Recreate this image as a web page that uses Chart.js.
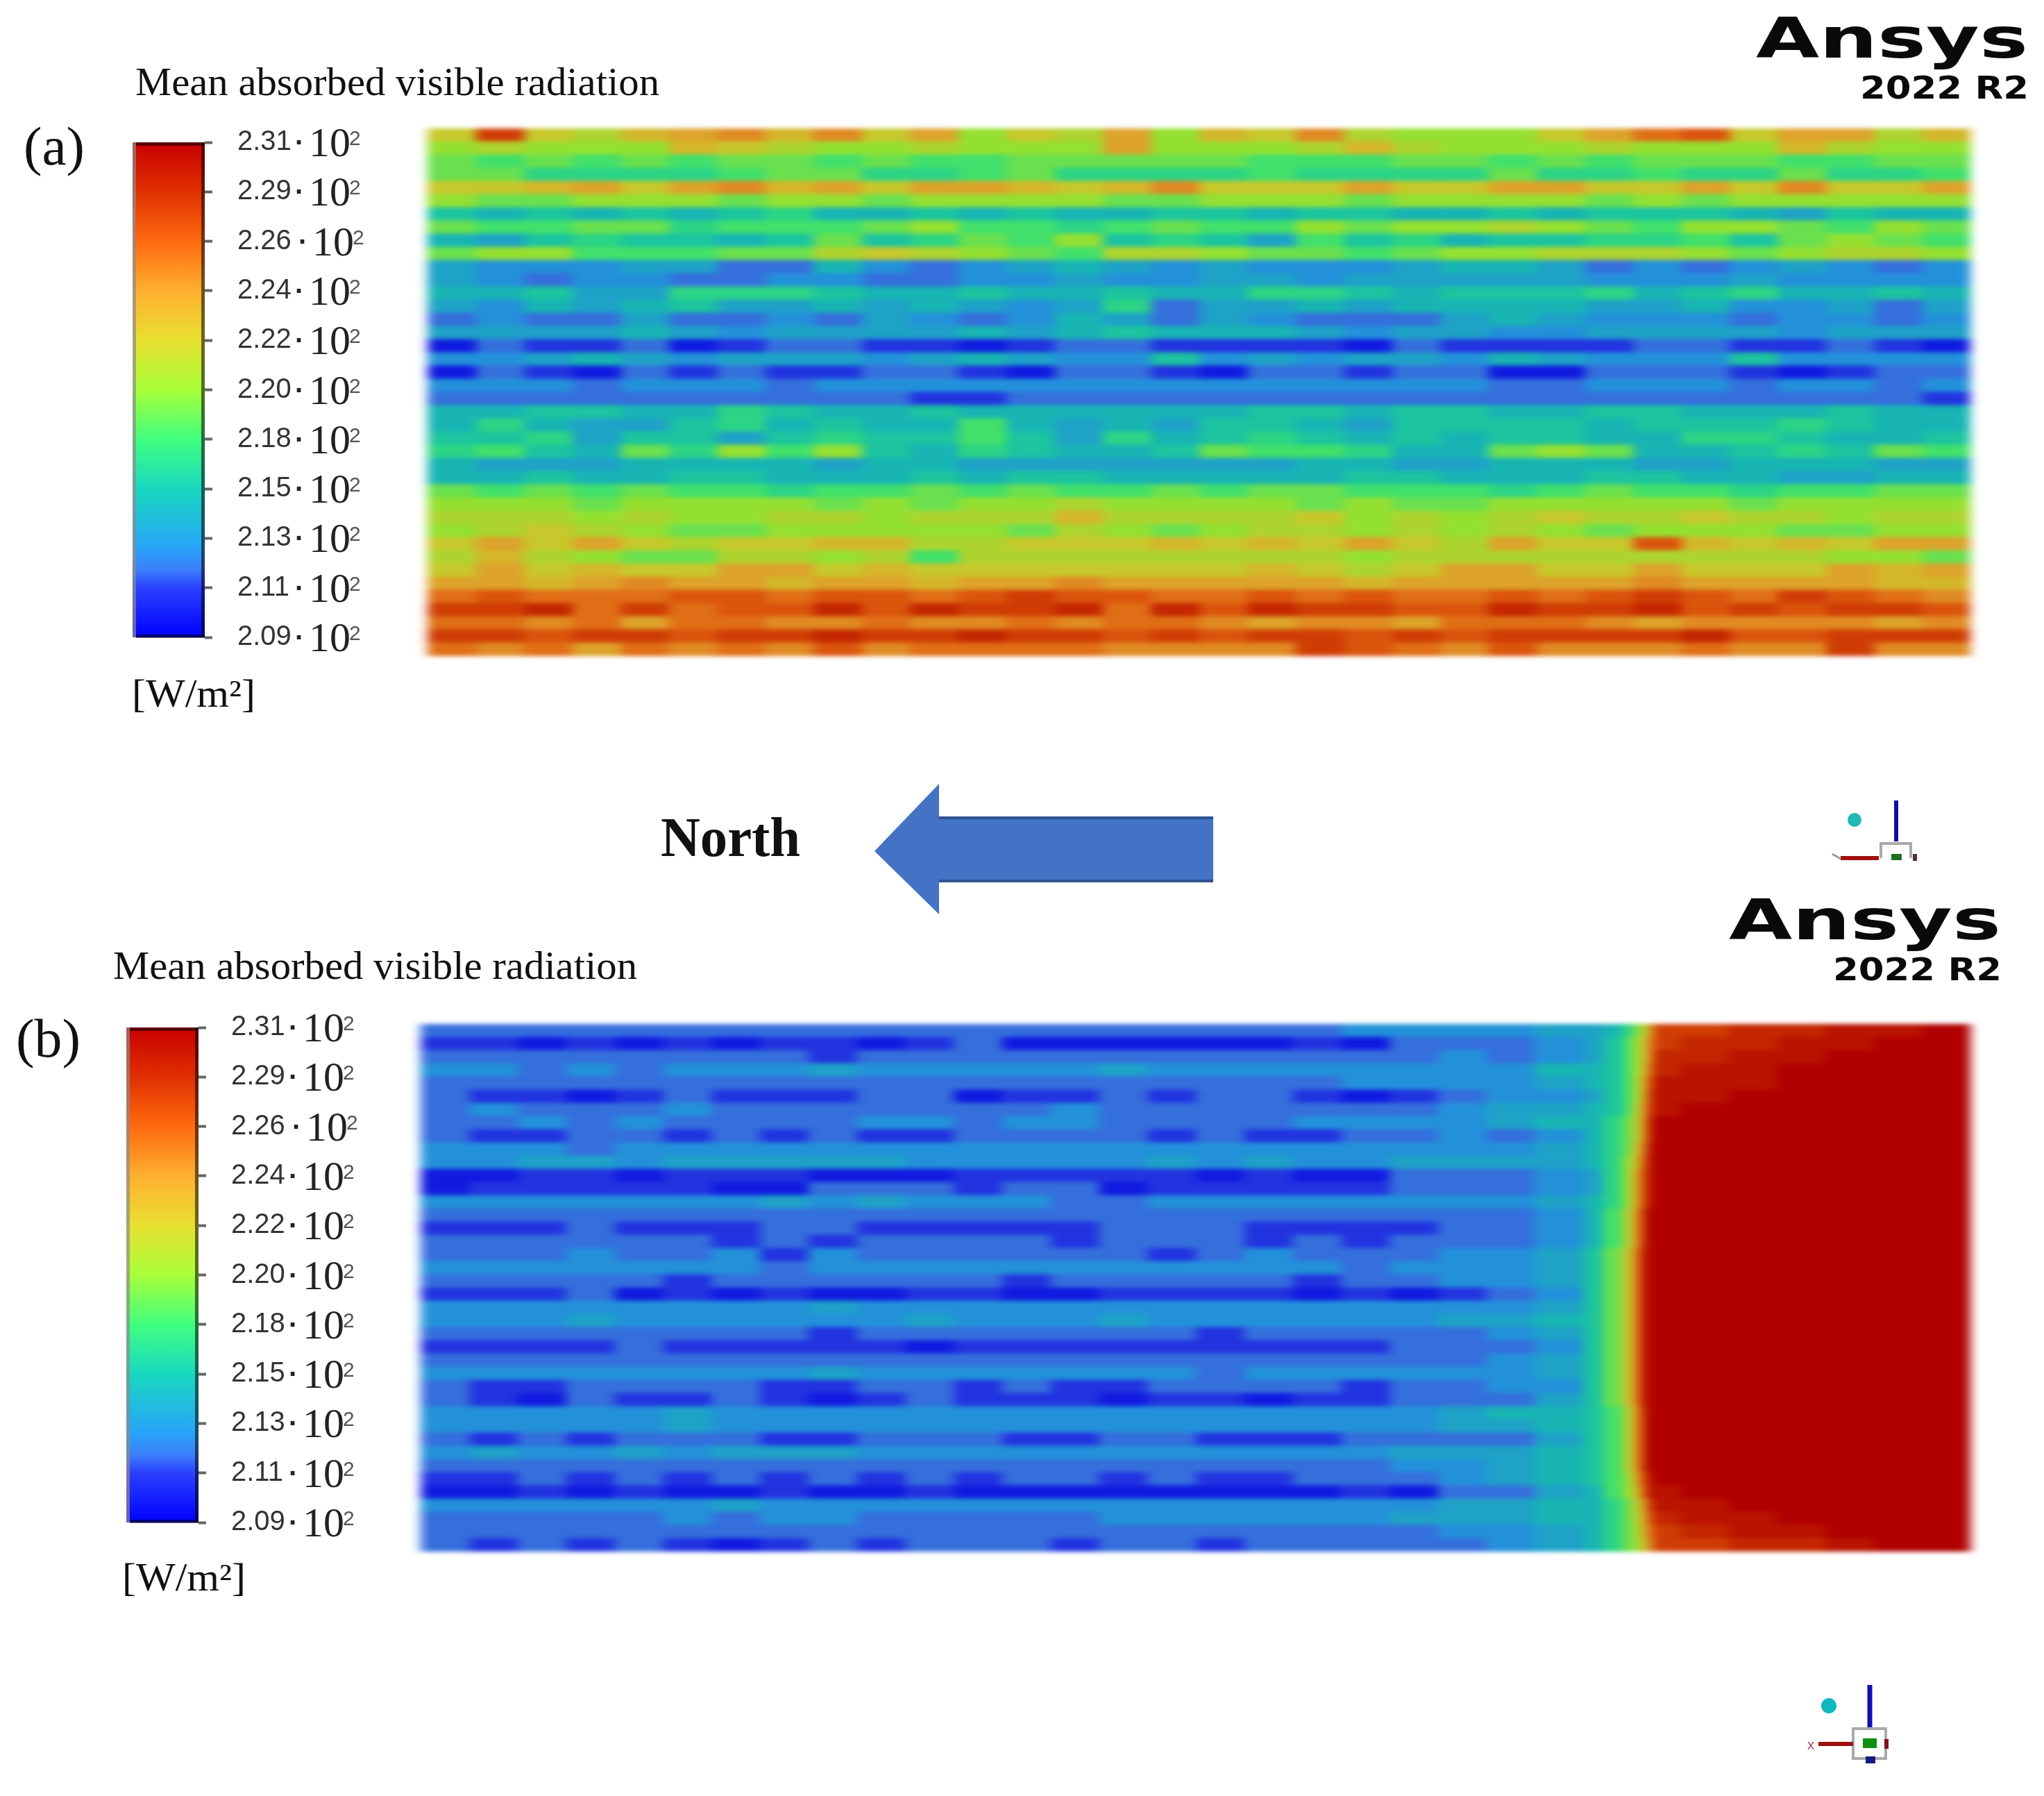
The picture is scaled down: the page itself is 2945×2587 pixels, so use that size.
<!DOCTYPE html>
<html>
<head>
<meta charset="utf-8">
<title>Mean absorbed visible radiation</title>
<script src="https://cdn.jsdelivr.net/npm/chart.js@4/dist/chart.umd.js"></script>
<style>
body { margin: 0; background: #fff; width: 2945px; height: 2587px; overflow: hidden; position: relative; }
canvas { position: absolute; }
#overlay { position: absolute; left: 0; top: 0; }
.heat { filter: url(#soft); }
.serif { font-family: "Liberation Serif"; fill: #111; }
.logo { font-family: "DejaVu Sans"; font-weight: bold; fill: #0a0a0a; }
</style>
</head>
<body>
<canvas id="heatA" class="heat" width="2223" height="760" style="left:616px;top:185px"></canvas>
<canvas id="heatB" class="heat" width="2233" height="760" style="left:606px;top:1475px"></canvas>
<canvas id="barA" width="340" height="833" style="left:191px;top:145px"></canvas>
<canvas id="barB" width="340" height="833" style="left:182px;top:1420px"></canvas>

<svg id="overlay" width="2945" height="2587">
  <filter id="soft" color-interpolation-filters="sRGB"><feGaussianBlur stdDeviation="8 3"/></filter>

  <text class="serif" x="195" y="137" font-size="58" textLength="755" lengthAdjust="spacingAndGlyphs">Mean absorbed visible radiation</text>
  <text class="serif" x="34" y="237" font-size="78" textLength="88" lengthAdjust="spacingAndGlyphs">(a)</text>
  <text class="serif" x="190" y="1018" font-size="56" textLength="178" lengthAdjust="spacingAndGlyphs">[W/m²]</text>

  <text class="serif" x="163" y="1410" font-size="58" textLength="755" lengthAdjust="spacingAndGlyphs">Mean absorbed visible radiation</text>
  <text class="serif" x="23" y="1522" font-size="78" textLength="93" lengthAdjust="spacingAndGlyphs">(b)</text>
  <text class="serif" x="176" y="2291" font-size="56" textLength="178" lengthAdjust="spacingAndGlyphs">[W/m²]</text>

  <text class="serif" x="952" y="1233" font-size="80" font-weight="bold" textLength="201" lengthAdjust="spacingAndGlyphs">North</text>
  <polygon points="1260,1226 1353,1129 1353,1177 1748,1177 1748,1270 1353,1270 1353,1317" fill="#4472c4"/>
  <line x1="1353" y1="1178" x2="1748" y2="1178" stroke="#2f528f" stroke-width="4"/>
  <line x1="1353" y1="1269" x2="1748" y2="1269" stroke="#2f528f" stroke-width="4"/>

  <text class="logo" x="2530" y="83" font-size="80" textLength="392" lengthAdjust="spacingAndGlyphs">Ansys</text>
  <text class="logo" x="2680" y="142" font-size="44" textLength="243" lengthAdjust="spacingAndGlyphs">2022 R2</text>
  <text class="logo" x="2491" y="1353" font-size="80" textLength="392" lengthAdjust="spacingAndGlyphs">Ansys</text>
  <text class="logo" x="2641" y="1412" font-size="44" textLength="243" lengthAdjust="spacingAndGlyphs">2022 R2</text>

  <!-- triad (a) -->
  <circle cx="2672" cy="1181" r="10" fill="#20b8b8"/>
  <line x1="2732" y1="1153" x2="2732" y2="1212" stroke="#1010a0" stroke-width="6"/>
  <path d="M2710 1236 V1215 H2753 V1236" fill="none" stroke="#aaa" stroke-width="4"/>
  <line x1="2652" y1="1236" x2="2707" y2="1236" stroke="#a01010" stroke-width="6"/>
  <line x1="2640" y1="1230" x2="2652" y2="1237" stroke="#999" stroke-width="3"/>
  <rect x="2725" y="1230" width="15" height="9" fill="#207020"/>
  <rect x="2756" y="1230" width="6" height="10" fill="#503040"/>

  <!-- triad (b) -->
  <circle cx="2635" cy="2457" r="11" fill="#10b8c0"/>
  <line x1="2694" y1="2427" x2="2694" y2="2490" stroke="#1010b0" stroke-width="7"/>
  <rect x="2670" y="2490" width="47" height="43" fill="none" stroke="#aaa" stroke-width="4"/>
  <line x1="2620" y1="2512" x2="2670" y2="2512" stroke="#a01010" stroke-width="6"/>
  <rect x="2684" y="2504" width="20" height="14" fill="#109010"/>
  <rect x="2688" y="2530" width="14" height="10" fill="#181880"/>
  <rect x="2715" y="2505" width="6" height="14" fill="#801020"/>
  <text x="2604" y="2520" font-size="20" font-family="Liberation Sans" fill="#b04060">x</text>
</svg>

<script>
// colour legend, same for both panels
const tickValues = [209, 211.2, 213.4, 215.6, 217.8, 220, 222.2, 224.4, 226.6, 228.8, 231];
const tickLabels = ['2.09', '2.11', '2.13', '2.15', '2.18', '2.20', '2.22', '2.24', '2.26', '2.29', '2.31'];
const stopValues = [209, 211.2, 212, 213, 215.6, 217.8, 220, 222.2, 224.4, 226.6, 228.8, 231];
const stopColors = [
  [0, 0, 255], [42, 64, 255], [60, 126, 250], [40, 165, 248], [24, 216, 192], [64, 255, 128],
  [168, 255, 56], [232, 224, 48], [255, 176, 48], [255, 106, 16], [224, 48, 0], [200, 0, 0]
];

// panel (a), W/m2, top row first
const edgesA = [0,1,2,3,4,5,6,7,8,9,10,11,12,13,14,15,16,17,18,19,20,21,22,23,24,25,26,27,28,29,30,31,32];
const rowsA = [
  [222,228,222,221,223,224,225,223,225,222,224,220,222,221,224,220,223,222,225,221,220,220,220,222,224,226,227,222,224,224,221,223],
  [220,221,220,220,220,223,222,221,220,220,221,220,220,220,224,220,220,220,221,223,221,220,220,220,221,220,220,220,223,221,220,220],
  [219,218,219,218,219,218,219,219,218,219,218,218,219,219,219,219,219,218,218,218,219,219,218,219,218,219,219,219,218,218,219,219],
  [219,219,217,217,217,217,218,219,219,217,217,218,219,217,217,217,217,218,217,217,217,217,219,217,217,218,217,217,219,217,217,218],
  [222,222,223,224,222,224,225,223,224,222,224,224,223,222,223,225,222,222,222,224,222,222,224,224,222,222,224,222,225,222,222,224],
  [220,219,219,220,220,220,219,220,220,219,220,220,220,220,219,219,220,220,220,219,220,220,220,220,219,220,219,220,220,220,220,220],
  [216,215,216,215,216,215,216,217,215,215,216,215,216,215,215,216,216,215,216,216,215,215,216,215,216,216,216,215,214,216,215,215],
  [219,218,218,219,219,217,218,218,218,219,220,218,218,217,218,219,218,218,220,219,220,220,221,220,219,218,220,220,219,218,220,219],
  [215,214,216,217,216,216,215,216,219,216,217,219,218,220,216,217,216,214,218,216,217,215,216,216,217,217,218,216,219,220,219,218],
  [219,220,220,218,218,218,219,219,221,222,221,220,219,218,221,221,220,219,219,218,219,220,220,221,221,221,220,219,220,221,221,220],
  [214,213,213,213,214,214,212,212,215,213,212,213,214,215,214,213,214,213,213,213,214,215,215,214,212,213,212,213,214,213,212,213],
  [214,213,212,213,213,212,212,213,213,212,212,213,213,214,213,213,214,214,213,214,214,214,214,214,213,213,213,214,213,213,213,213],
  [215,215,216,214,214,217,217,217,216,215,215,216,215,215,216,215,215,217,217,216,215,216,216,216,217,215,216,217,215,215,216,215],
  [214,213,215,214,215,216,214,214,215,214,215,214,213,214,217,212,214,214,215,214,215,215,215,215,214,214,215,213,213,214,212,214],
  [212,213,212,212,214,212,212,213,212,214,213,212,213,215,214,212,214,213,212,212,212,214,215,214,213,213,213,212,213,213,212,213],
  [214,214,214,214,215,214,213,214,214,214,214,215,214,215,216,215,215,215,214,213,214,214,213,213,214,214,214,214,213,214,214,214],
  [210,212,211,211,212,210,211,212,212,211,211,210,211,212,212,211,211,211,211,210,212,211,211,211,211,212,212,211,211,212,211,210],
  [213,213,214,215,214,213,214,214,214,213,214,215,214,213,213,216,213,214,213,214,214,213,215,214,213,213,213,216,213,213,213,213],
  [210,212,211,210,212,211,212,211,211,212,212,211,210,212,212,211,210,212,212,211,212,212,210,210,212,212,212,211,210,211,212,212],
  [213,213,213,212,213,213,213,212,213,213,213,213,213,213,213,213,213,213,213,213,213,213,212,212,213,213,213,212,213,213,212,213],
  [212,212,212,212,212,212,212,212,212,212,211,211,212,212,212,212,212,212,212,212,212,212,212,212,212,212,212,212,212,212,212,211],
  [215,215,216,216,215,215,217,216,215,215,216,215,215,215,215,215,215,216,216,215,216,216,215,215,216,216,215,215,215,216,215,215],
  [215,217,215,214,214,216,217,215,216,215,215,218,215,214,215,214,216,216,215,214,216,216,216,216,215,216,216,216,217,216,215,215],
  [216,216,217,214,216,216,214,216,217,216,216,218,216,214,217,215,216,217,216,215,216,215,216,216,215,215,217,217,216,215,215,216],
  [217,218,216,215,219,217,220,218,220,216,215,217,216,215,215,216,219,218,218,217,215,215,219,220,219,215,215,216,217,216,219,218],
  [215,214,214,214,215,215,215,215,214,215,215,214,214,214,214,214,214,214,215,215,214,214,215,215,215,214,214,215,215,215,214,214],
  [215,215,216,215,215,216,216,215,215,215,216,215,216,216,215,215,215,215,215,216,216,215,215,215,216,216,215,215,214,214,215,215],
  [219,218,219,218,219,218,218,217,218,218,219,218,219,218,218,219,218,219,219,218,218,218,217,218,219,218,218,217,218,218,219,219],
  [220,220,220,219,220,220,220,220,219,220,219,220,220,221,220,220,220,220,219,220,219,219,220,220,220,220,220,219,220,220,220,220],
  [221,221,221,220,221,220,220,221,221,220,221,221,221,223,221,221,221,221,222,220,221,220,221,222,221,221,222,221,221,220,221,221],
  [220,221,222,221,220,219,219,220,220,220,220,220,219,221,220,219,220,221,221,220,221,220,221,220,219,220,220,220,219,219,220,220],
  [222,224,222,224,222,221,222,222,223,223,221,221,222,222,222,223,222,223,222,224,222,221,224,222,222,227,223,222,223,222,224,224],
  [221,223,221,220,219,219,221,221,220,221,218,221,221,221,221,221,221,221,221,220,221,221,221,221,221,221,221,221,221,220,220,219],
  [222,224,222,223,222,222,224,224,222,223,222,222,222,222,222,222,222,223,222,221,222,224,224,222,222,224,222,222,222,224,223,224],
  [224,224,223,224,225,224,224,223,224,224,223,224,224,225,224,224,224,224,224,223,224,224,224,224,224,225,224,224,224,224,223,223],
  [226,227,226,226,226,227,227,226,227,227,226,227,228,227,227,226,226,227,226,227,226,226,227,226,227,228,227,226,228,227,226,225],
  [228,228,229,226,228,226,227,227,229,227,229,228,228,229,226,229,227,229,228,228,227,227,229,228,228,229,227,228,227,228,228,227],
  [226,226,225,226,224,226,226,225,225,226,225,225,226,225,226,226,225,224,225,225,224,226,226,226,225,224,225,225,225,225,224,225],
  [228,228,227,228,228,227,228,228,229,228,228,229,228,228,227,228,227,228,228,227,228,227,228,228,228,228,229,227,227,228,228,228],
  [226,225,226,224,226,225,226,225,227,225,226,226,226,226,225,225,225,225,228,227,226,225,227,225,225,225,226,225,225,228,225,225]
];

// panel (b): narrow columns around the edge of the hot zone
const edgesB = [0,1,2,3,4,5,6,7,8,9,10,11,12,13,14,15,16,17,18,19,20,21,22,23,24,24.4,24.8,25,25.15,25.3,25.45,26,27,28,29,30,31,32];
const rowsBLeft = [
  [212,212,212,212,212,212,212,212,212,212,212,212,212,212,212,212,212,212,212,213,213,213,213,214],
  [211,211,210,211,210,211,210,211,211,210,211,212,210,210,210,210,210,210,211,210,212,212,212,213],
  [212,212,212,212,212,212,212,212,211,212,212,212,212,212,212,212,212,212,212,212,212,213,212,213],
  [213,213,212,213,212,213,213,213,214,213,213,213,213,213,214,213,213,213,213,213,213,213,213,215],
  [212,212,212,212,212,212,212,212,212,212,212,212,212,212,212,212,212,212,212,213,213,213,213,214],
  [212,211,211,210,211,212,211,211,211,212,212,210,211,211,212,211,212,212,211,210,211,212,213,213],
  [212,213,212,212,212,213,212,212,212,212,212,212,212,213,212,212,212,212,212,212,212,213,214,214],
  [212,212,213,212,213,212,212,212,212,213,213,212,213,213,212,212,212,212,213,213,213,213,214,215],
  [212,211,211,212,212,211,212,211,212,211,211,212,212,212,212,211,212,211,211,212,212,213,212,213],
  [213,213,213,212,213,213,213,213,213,213,213,213,213,213,213,213,213,213,213,213,213,213,213,214],
  [213,213,214,214,213,214,214,214,214,214,213,213,213,213,213,214,213,214,213,213,214,214,214,214],
  [210,210,211,211,210,211,211,211,210,210,210,211,211,211,211,211,210,211,210,210,212,212,212,213],
  [210,211,211,211,211,211,210,210,212,212,212,211,212,212,210,211,211,211,211,211,212,212,212,213],
  [213,213,213,213,213,213,213,214,213,214,213,213,213,212,212,213,213,213,213,213,213,213,213,214],
  [212,212,212,212,212,212,212,212,212,212,212,212,212,212,212,212,212,212,212,212,212,212,212,213],
  [211,211,211,212,211,211,211,212,212,211,211,211,211,211,212,212,212,211,211,211,211,212,212,213],
  [212,212,212,212,212,212,211,212,211,212,212,212,212,211,212,212,212,211,212,211,212,212,212,213],
  [212,212,212,213,212,212,213,211,213,212,212,212,212,212,212,211,212,213,212,212,212,213,213,214],
  [213,213,213,213,213,213,213,212,213,213,213,213,213,213,213,213,213,213,213,212,213,213,213,214],
  [212,212,212,212,212,211,212,212,212,212,212,212,211,212,212,212,212,212,211,212,212,213,213,214],
  [211,211,211,212,210,211,210,211,210,210,211,211,210,210,211,211,211,211,210,211,210,211,212,213],
  [213,213,213,213,213,213,213,213,214,213,213,213,213,213,213,213,213,213,213,213,213,213,213,214],
  [213,213,213,214,213,213,213,213,213,213,214,213,213,213,214,213,213,213,213,213,213,214,214,215],
  [212,212,212,212,212,212,212,212,211,212,212,212,212,212,212,212,211,212,212,212,212,212,213,214],
  [211,211,211,211,212,211,211,211,211,211,210,211,211,211,211,211,211,211,211,211,212,212,212,213],
  [212,212,212,212,212,212,212,212,212,212,212,212,212,212,212,212,212,212,212,212,212,212,213,214],
  [213,213,213,213,213,213,213,213,214,213,213,213,213,213,213,213,212,213,213,213,213,213,213,214],
  [212,211,211,212,212,212,212,211,211,212,212,211,212,211,211,212,212,212,212,211,212,212,213,213],
  [212,211,210,212,211,211,212,211,210,211,212,211,211,211,210,211,211,210,211,211,212,212,212,214],
  [213,213,213,213,213,214,213,213,213,213,213,213,213,213,213,213,213,213,213,213,213,214,215,215],
  [213,213,213,213,213,214,213,213,213,213,213,213,213,213,213,213,213,213,213,213,213,214,214,215],
  [212,211,212,211,212,212,212,211,211,212,212,212,211,211,212,212,211,211,211,212,212,212,212,214],
  [213,214,213,213,214,213,214,214,214,213,213,213,213,213,213,213,213,213,213,213,214,214,214,215],
  [212,212,212,212,212,212,212,212,212,212,212,212,212,212,212,212,212,212,212,212,213,213,214,215],
  [211,211,212,211,212,211,212,211,212,211,212,211,212,212,211,212,211,211,212,212,212,213,214,215],
  [210,210,211,210,211,210,210,211,210,210,211,210,210,210,210,210,210,210,210,211,210,212,212,214],
  [213,213,213,213,213,213,214,213,213,213,213,213,213,213,213,213,213,213,213,213,213,214,214,215],
  [212,212,212,212,212,213,212,213,213,212,212,212,212,212,213,213,213,213,213,213,214,214,214,215],
  [212,212,212,212,212,212,212,212,212,212,212,212,212,212,212,212,212,212,212,212,212,213,213,214],
  [212,211,212,211,212,211,210,211,212,211,212,212,212,211,212,212,211,212,212,212,212,212,213,214]
];
const rowsBRight = [
  [214,215,217,219,221,224,228,228,229,229,230,230,231],
  [214,216,218,220,222,225,228,229,229,230,230,231,231],
  [214,216,218,220,222,225,229,229,230,230,231,231,231],
  [215,216,218,220,222,226,229,230,230,231,231,231,231],
  [215,216,218,220,223,227,230,230,230,231,231,231,231],
  [214,216,218,220,223,228,230,230,231,231,231,231,231],
  [215,216,218,221,224,228,230,231,231,231,231,231,231],
  [215,217,219,221,224,229,231,231,231,231,231,231,231],
  [215,217,219,221,224,229,231,231,231,231,231,231,231],
  [215,217,219,222,225,230,231,231,231,231,231,231,231],
  [215,217,220,222,226,230,231,231,231,231,231,231,231],
  [214,217,220,223,227,230,231,231,231,231,231,231,231],
  [214,217,220,223,227,230,231,231,231,231,231,231,231],
  [215,217,220,223,227,230,231,231,231,231,231,231,231],
  [215,218,221,224,228,231,231,231,231,231,231,231,231],
  [215,218,221,224,228,231,231,231,231,231,231,231,231],
  [215,218,221,224,228,231,231,231,231,231,231,231,231],
  [216,219,222,225,229,231,231,231,231,231,231,231,231],
  [216,219,222,225,229,231,231,231,231,231,231,231,231],
  [216,219,222,225,229,231,231,231,231,231,231,231,231],
  [216,219,222,225,229,231,231,231,231,231,231,231,231],
  [216,219,222,225,229,231,231,231,231,231,231,231,231],
  [216,219,222,225,229,231,231,231,231,231,231,231,231],
  [216,219,222,225,229,231,231,231,231,231,231,231,231],
  [216,219,222,225,229,231,231,231,231,231,231,231,231],
  [216,219,222,225,229,231,231,231,231,231,231,231,231],
  [216,219,222,225,229,231,231,231,231,231,231,231,231],
  [216,219,222,225,229,231,231,231,231,231,231,231,231],
  [216,219,222,225,229,231,231,231,231,231,231,231,231],
  [216,218,221,224,228,231,231,231,231,231,231,231,231],
  [216,218,221,224,228,231,231,231,231,231,231,231,231],
  [216,218,221,224,228,231,231,231,231,231,231,231,231],
  [216,218,221,224,228,231,231,231,231,231,231,231,231],
  [216,218,221,224,228,231,231,231,231,231,231,231,231],
  [216,218,220,223,227,230,231,231,231,231,231,231,231],
  [215,218,220,222,226,230,230,231,231,231,231,231,231],
  [215,217,219,221,224,228,230,230,231,231,231,231,231],
  [215,217,219,221,223,227,229,230,230,231,231,231,231],
  [215,217,219,220,223,226,228,229,230,230,231,231,231],
  [215,217,219,220,222,225,228,228,229,229,230,231,231]
];
const rowsB = rowsBLeft.map((row, i) => row.concat(rowsBRight[i]));

function mixColor(v, shade) {
  let i = 0;
  while (i < stopValues.length - 2 && v > stopValues[i + 1]) i++;
  const t = (v - stopValues[i]) / (stopValues[i + 1] - stopValues[i]);
  const c = stopColors[i].map((a, k) => Math.round((a + (stopColors[i + 1][k] - a) * t) * shade));
  return `rgb(${c[0]}, ${c[1]}, ${c[2]})`;
}

// one floating horizontal bar per cell, the surface shows a bit darker than the legend
function heatChart(id, rows, edges) {
  const datasets = [];
  for (let c = 0; c < edges.length - 1; c++) {
    datasets.push({
      data: rows.map(() => [edges[c], edges[c + 1]]),
      backgroundColor: rows.map(r => mixColor(r[c], 0.88)),
      borderWidth: 0,
      inflateAmount: 0.6,
      barPercentage: 1,
      categoryPercentage: 1,
      grouped: false
    });
  }
  return new Chart(document.getElementById(id), {
    type: 'bar',
    data: { labels: rows.map((r, i) => i), datasets: datasets },
    options: {
      indexAxis: 'y',
      responsive: false,
      animation: false,
      layout: { padding: 0 },
      plugins: { legend: { display: false }, tooltip: { enabled: false } },
      scales: {
        x: { type: 'linear', min: 0, max: 32, display: false },
        y: { display: false }
      }
    }
  });
}

// the "·10²" part and the bar edges
const legendExtras = {
  id: 'legendExtras',
  afterDraw(chart) {
    const ctx = chart.ctx, area = chart.chartArea, y = chart.scales.y;
    ctx.save();
    ctx.fillStyle = 'rgba(140, 140, 140, 0.7)';
    ctx.fillRect(area.left, area.top, 5, area.height);
    ctx.fillStyle = 'rgba(0, 0, 0, 0.55)';
    ctx.fillRect(area.right - 5, area.top, 5, area.height);
    ctx.fillRect(area.left + 5, area.top, area.width - 5, 5);
    ctx.fillRect(area.left + 5, area.bottom - 4, area.width - 5, 5);
    ctx.textBaseline = 'alphabetic';
    tickValues.forEach((v, i) => {
      const py = y.getPixelForValue(v);
      const shift = tickLabels[i] === '2.26' ? 5 : 0;
      ctx.fillStyle = '#222';
      ctx.font = 'bold 40px "Liberation Sans"';
      ctx.fillText('·', area.right + 130 + shift, py + 14);
      ctx.font = '60px "Liberation Serif"';
      ctx.fillText('10', area.right + 150 + shift, py + 20);
      ctx.fillStyle = '#555';
      ctx.font = '30px "Liberation Sans"';
      ctx.fillText('2', area.right + 208 + shift, py + 4);
    });
    ctx.restore();
  }
};

function legendChart(id) {
  return new Chart(document.getElementById(id), {
    type: 'bar',
    data: {
      labels: [''],
      datasets: [{
        data: [[tickValues[0], tickValues[tickValues.length - 1]]],
        barPercentage: 1,
        categoryPercentage: 1,
        borderWidth: 0,
        backgroundColor(ctx) {
          const chart = ctx.chart;
          if (!chart.chartArea) return '#888';
          const y = chart.scales.y;
          const g = chart.ctx.createLinearGradient(0, y.getPixelForValue(209), 0, y.getPixelForValue(231));
          stopValues.forEach((v, i) => g.addColorStop((v - 209) / 22, mixColor(v, 1)));
          return g;
        }
      }]
    },
    options: {
      responsive: false,
      animation: false,
      layout: { padding: { top: 19, bottom: 19, left: 0, right: 0 } },
      plugins: { legend: { display: false }, tooltip: { enabled: false } },
      scales: {
        x: { display: false },
        y: {
          position: 'right',
          min: 209,
          max: 231,
          afterBuildTicks(scale) { scale.ticks = tickValues.map(v => ({ value: v })); },
          afterFit(scale) { scale.width = 236; },
          border: { display: false },
          grid: { drawOnChartArea: false, tickLength: 11, tickWidth: 4, tickColor: '#666' },
          ticks: {
            autoSkip: false,
            padding: 36,
            color: '#333',
            font: { family: 'Liberation Sans', size: 40 },
            callback(value, index) { return tickLabels[index]; }
          }
        }
      }
    },
    plugins: [legendExtras]
  });
}

heatChart('heatA', rowsA, edgesA);
heatChart('heatB', rowsB, edgesB);
legendChart('barA');
legendChart('barB');
</script>
</body>
</html>
